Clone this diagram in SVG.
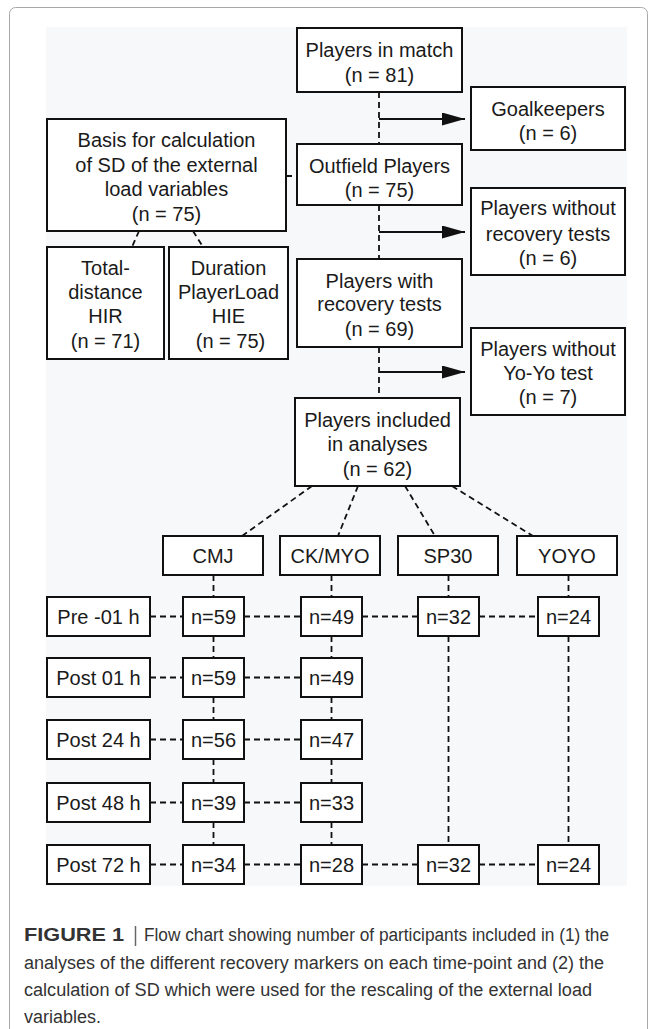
<svg xmlns="http://www.w3.org/2000/svg" width="655" height="1029" viewBox="0 0 655 1029">
<style>
.box{fill:#fff;stroke:#111;stroke-width:2}
.t{font-family:"Liberation Sans",Arial,sans-serif;font-size:20px;fill:#1a1a1a;text-anchor:middle}
.d{stroke:#111;stroke-width:1.8;stroke-dasharray:6 4;fill:none}
.s{stroke:#111;stroke-width:2;fill:none}
.cap{font-family:"Liberation Sans",Arial,sans-serif;font-size:18px;fill:#333}
</style>
<defs>
<marker id="ah" viewBox="0 0 23 13" refX="23" refY="6.5" markerWidth="23" markerHeight="13" markerUnits="userSpaceOnUse" orient="auto">
<path d="M0,0 L23,6.5 L0,13 Z" fill="#111"/>
</marker>
</defs>
<rect x="9.5" y="7.5" width="638" height="1040" rx="6" fill="#fff" stroke="#a8a8a8" stroke-width="1"/>
<rect x="46" y="27" width="581" height="859" fill="#f7f8f9"/>

<g id="connectors">
<line class="d" x1="379" y1="92" x2="379" y2="144"/>
<line class="d" x1="379" y1="205" x2="379" y2="259"/>
<line class="d" x1="379" y1="347" x2="379" y2="398"/>
<line class="s" x1="379" y1="119" x2="465" y2="119" marker-end="url(#ah)"/>
<line class="s" x1="379" y1="232" x2="465" y2="232" marker-end="url(#ah)"/>
<line class="s" x1="379" y1="372" x2="465" y2="372" marker-end="url(#ah)"/>
<line class="d" x1="286" y1="176" x2="297" y2="176"/>
<line class="d" x1="139" y1="231" x2="132" y2="247"/>
<line class="d" x1="193" y1="231" x2="203" y2="247"/>
<line class="d" x1="312" y1="486" x2="242" y2="536"/>
<line class="d" x1="358" y1="486" x2="338" y2="536"/>
<line class="d" x1="405" y1="486" x2="435" y2="536"/>
<line class="d" x1="452" y1="486" x2="533" y2="536"/>
<line class="d" x1="213.5" y1="575" x2="213.5" y2="597"/>
<line class="d" x1="331.5" y1="575" x2="331.5" y2="597"/>
<line class="d" x1="448.5" y1="575" x2="448.5" y2="597"/>
<line class="d" x1="568.5" y1="575" x2="568.5" y2="597"/>
<line class="d" x1="213.5" y1="636" x2="213.5" y2="658"/>
<line class="d" x1="213.5" y1="697" x2="213.5" y2="720"/>
<line class="d" x1="213.5" y1="759" x2="213.5" y2="783"/>
<line class="d" x1="213.5" y1="822" x2="213.5" y2="845"/>
<line class="d" x1="331.5" y1="636" x2="331.5" y2="658"/>
<line class="d" x1="331.5" y1="697" x2="331.5" y2="720"/>
<line class="d" x1="331.5" y1="759" x2="331.5" y2="783"/>
<line class="d" x1="331.5" y1="822" x2="331.5" y2="845"/>
<line class="d" x1="448.5" y1="636" x2="448.5" y2="845"/>
<line class="d" x1="568.5" y1="636" x2="568.5" y2="845"/>
<line class="d" x1="150" y1="616.5" x2="183" y2="616.5"/>
<line class="d" x1="244" y1="616.5" x2="301" y2="616.5"/>
<line class="d" x1="362" y1="616.5" x2="418" y2="616.5"/>
<line class="d" x1="479" y1="616.5" x2="538" y2="616.5"/>
<line class="d" x1="150" y1="677.5" x2="183" y2="677.5"/>
<line class="d" x1="244" y1="677.5" x2="301" y2="677.5"/>
<line class="d" x1="150" y1="739.5" x2="183" y2="739.5"/>
<line class="d" x1="244" y1="739.5" x2="301" y2="739.5"/>
<line class="d" x1="150" y1="802.5" x2="183" y2="802.5"/>
<line class="d" x1="244" y1="802.5" x2="301" y2="802.5"/>
<line class="d" x1="150" y1="864.5" x2="183" y2="864.5"/>
<line class="d" x1="244" y1="864.5" x2="301" y2="864.5"/>
<line class="d" x1="362" y1="864.5" x2="418" y2="864.5"/>
<line class="d" x1="479" y1="864.5" x2="538" y2="864.5"/>
</g>

<g id="n-match"><rect class="box" x="297" y="28" width="165" height="64"/><text class="t" x="379.5" y="57">Players in match</text><text class="t" x="379.5" y="82">(n = 81)</text></g>
<g id="n-gk"><rect class="box" x="471" y="87" width="154" height="63"/><text class="t" x="548" y="116">Goalkeepers</text><text class="t" x="548" y="140">(n = 6)</text></g>
<g id="n-outfield"><rect class="box" x="297" y="144" width="165" height="61"/><text class="t" x="379.5" y="173">Outfield Players</text><text class="t" x="379.5" y="197">(n = 75)</text></g>
<g id="n-basis"><rect class="box" x="47" y="119" width="239" height="112"/><text class="t" x="166.5" y="147">Basis for calculation</text><text class="t" x="166.5" y="172">of SD of the external</text><text class="t" x="166.5" y="196">load variables</text><text class="t" x="166.5" y="221">(n = 75)</text></g>
<g id="n-norec"><rect class="box" x="471" y="188" width="154" height="87"/><text class="t" x="548" y="215">Players without</text><text class="t" x="548" y="241">recovery tests</text><text class="t" x="548" y="265">(n = 6)</text></g>
<g id="n-total"><rect class="box" x="47" y="247" width="117" height="112"/><text class="t" x="105.5" y="275">Total-</text><text class="t" x="105.5" y="299">distance</text><text class="t" x="105.5" y="323">HIR</text><text class="t" x="105.5" y="348">(n = 71)</text></g>
<g id="n-duration"><rect class="box" x="169" y="247" width="119" height="112"/><text class="t" x="228.5" y="275">Duration</text><text class="t" x="228.5" y="299">PlayerLoad</text><text class="t" x="228.5" y="323">HIE</text><text class="t" x="230.5" y="348">(n = 75)</text></g>
<g id="n-withrec"><rect class="box" x="297" y="259" width="165" height="88"/><text class="t" x="379.5" y="288">Players with</text><text class="t" x="379.5" y="311">recovery tests</text><text class="t" x="379.5" y="336">(n = 69)</text></g>
<g id="n-noyoyo"><rect class="box" x="471" y="328" width="154" height="87"/><text class="t" x="548" y="356">Players without</text><text class="t" x="548" y="380">Yo-Yo test</text><text class="t" x="548" y="404">(n = 7)</text></g>
<g id="n-included"><rect class="box" x="295" y="398" width="165" height="88"/><text class="t" x="377.5" y="427">Players included</text><text class="t" x="377.5" y="451">in analyses</text><text class="t" x="377.5" y="476">(n = 62)</text></g>

<g id="h-cmj"><rect class="box" x="163" y="536" width="100" height="39"/><text class="t" x="213" y="562.5">CMJ</text></g>
<g id="h-ck"><rect class="box" x="280" y="536" width="100" height="39"/><text class="t" x="330" y="562.5">CK/MYO</text></g>
<g id="h-sp30"><rect class="box" x="398" y="536" width="100" height="39"/><text class="t" x="448" y="562.5">SP30</text></g>
<g id="h-yoyo"><rect class="box" x="517" y="536" width="100" height="39"/><text class="t" x="567" y="562.5">YOYO</text></g>

<g id="r-pre"><rect class="box" x="47" y="597" width="103" height="39"/><text class="t" x="98.5" y="623.5">Pre -01 h</text></g>
<g id="r-post01"><rect class="box" x="47" y="658" width="103" height="39"/><text class="t" x="98.5" y="684.5">Post 01 h</text></g>
<g id="r-post24"><rect class="box" x="47" y="720" width="103" height="39"/><text class="t" x="98.5" y="746.5">Post 24 h</text></g>
<g id="r-post48"><rect class="box" x="47" y="783" width="103" height="39"/><text class="t" x="98.5" y="809.5">Post 48 h</text></g>
<g id="r-post72"><rect class="box" x="47" y="845" width="103" height="39"/><text class="t" x="98.5" y="871.5">Post 72 h</text></g>

<g id="c-pre-cmj"><rect class="box" x="183" y="597" width="61" height="39"/><text class="t" x="213.5" y="623.5">n=59</text></g>
<g id="c-pre-ck"><rect class="box" x="301" y="597" width="61" height="39"/><text class="t" x="331.5" y="623.5">n=49</text></g>
<g id="c-pre-sp"><rect class="box" x="418" y="597" width="61" height="39"/><text class="t" x="448.5" y="623.5">n=32</text></g>
<g id="c-pre-yo"><rect class="box" x="538" y="597" width="61" height="39"/><text class="t" x="568.5" y="623.5">n=24</text></g>
<g id="c-p01-cmj"><rect class="box" x="183" y="658" width="61" height="39"/><text class="t" x="213.5" y="684.5">n=59</text></g>
<g id="c-p01-ck"><rect class="box" x="301" y="658" width="61" height="39"/><text class="t" x="331.5" y="684.5">n=49</text></g>
<g id="c-p24-cmj"><rect class="box" x="183" y="720" width="61" height="39"/><text class="t" x="213.5" y="746.5">n=56</text></g>
<g id="c-p24-ck"><rect class="box" x="301" y="720" width="61" height="39"/><text class="t" x="331.5" y="746.5">n=47</text></g>
<g id="c-p48-cmj"><rect class="box" x="183" y="783" width="61" height="39"/><text class="t" x="213.5" y="809.5">n=39</text></g>
<g id="c-p48-ck"><rect class="box" x="301" y="783" width="61" height="39"/><text class="t" x="331.5" y="809.5">n=33</text></g>
<g id="c-p72-cmj"><rect class="box" x="183" y="845" width="61" height="39"/><text class="t" x="213.5" y="871.5">n=34</text></g>
<g id="c-p72-ck"><rect class="box" x="301" y="845" width="61" height="39"/><text class="t" x="331.5" y="871.5">n=28</text></g>
<g id="c-p72-sp"><rect class="box" x="418" y="845" width="61" height="39"/><text class="t" x="448.5" y="871.5">n=32</text></g>
<g id="c-p72-yo"><rect class="box" x="538" y="845" width="61" height="39"/><text class="t" x="568.5" y="871.5">n=24</text></g>

<g id="caption">
<text class="cap" x="24" y="941" font-weight="bold" font-size="20" fill="#222" textLength="100" lengthAdjust="spacingAndGlyphs">FIGURE 1</text>
<line x1="135.5" y1="926" x2="135.5" y2="946" stroke="#666" stroke-width="1.5"/>
<text class="cap" x="144" y="941" textLength="465" lengthAdjust="spacingAndGlyphs">Flow chart showing number of participants included in (1) the</text>
<text class="cap" x="24" y="969" textLength="580" lengthAdjust="spacingAndGlyphs">analyses of the different recovery markers on each time-point and (2) the</text>
<text class="cap" x="24" y="996" textLength="568" lengthAdjust="spacingAndGlyphs">calculation of SD which were used for the rescaling of the external load</text>
<text class="cap" x="24" y="1023">variables.</text>
</g>
</svg>
